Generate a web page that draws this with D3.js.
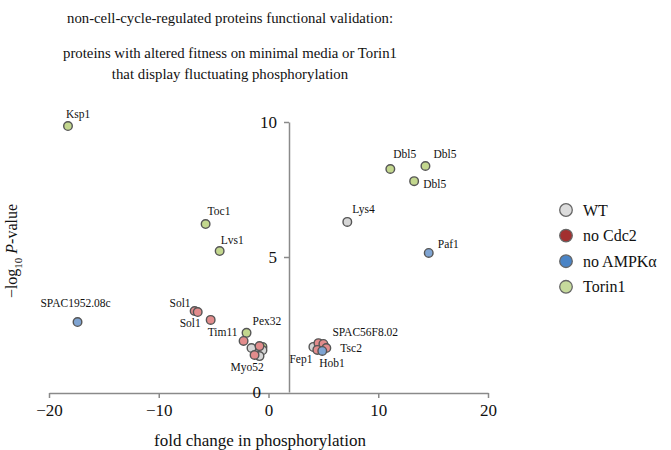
<!DOCTYPE html>
<html><head><meta charset="utf-8">
<script src="https://cdn.jsdelivr.net/npm/d3@7"></script>
<style>
body{margin:0;background:#fff;}
text{font-family:"Liberation Serif","Times New Roman",serif;fill:#111;}
</style></head>
<body><svg id="c" width="671" height="450"></svg>
<script>
// ---- data ----
const groups = ["WT", "no Cdc2", "no AMPKα", "Torin1"];
const titleLines = ["non-cell-cycle-regulated proteins functional validation:", "proteins with altered fitness on minimal media or Torin1", "that display fluctuating phosphorylation"];
const xTicks = [-20, -10, 0, 10, 20];
const yTicks = [0, 5, 10];
// points: fold change, -log10 p, group index
const pointX = [-18.27, -5.73, -4.45, -17.4, -6.73, -6.45, -5.27,
  -2.0, -2.27, -0.55, -0.55, -1.55, -0.82, -0.82, -1.27,
  4.09, 4.55, 5.0, 5.27, 4.45, 4.9,
  11.1, 14.3, 13.27, 7.18, 14.6];
const pointY = [9.85, 6.22, 5.22, 2.59, 3.0, 2.96, 2.67,
  2.19, 1.89, 1.67, 1.55, 1.63, 1.70, 1.33, 1.37,
  1.67, 1.81, 1.78, 1.63, 1.56, 1.52,
  8.26, 8.37, 7.81, 6.30, 5.15];
const pointGroup = [3, 3, 3, 2, 1, 1, 1,
  3, 1, 3, 0, 0, 1, 0, 1,
  0, 1, 1, 1, 1, 2,
  3, 3, 3, 0, 2];
// labels: text and index of the point they annotate
const labelText = ["Ksp1", "Toc1", "Lvs1", "SPAC1952.08c", "Sol1", "Sol1", "Tim11", "Pex32", "Myo52",
  "SPAC56F8.02", "Tsc2", "Fep1", "Hob1", "Dbl5", "Dbl5", "Dbl5", "Lys4", "Paf1"];
const labelPoint = [0, 1, 2, 3, 4, 5, 6, 7, 13, 17, 18, 15, 20, 21, 22, 23, 24, 25];

// ---- layout / style ----
const titleY = [23, 58, 79];
const titleWidth = [326, null, null];
const labelOffsets = [[-2,-8,"start"],[2,-9,"start"],[1,-7,"start"],[-2,-15,"middle"],[-4,-4,"end"],[-18,15,"start"],
  [-3,16,"start"],[6,-8,"start"],[-29,15,"start"],[9,-8,"start"],[14,4,"start"],[-1,16,"end"],[-3,16,"start"],
  [3,-11,"start"],[8,-8,"start"],[9,7,"start"],[5,-9,"start"],[9,-5,"start"]];
const legendFill = ["#dcdcdc", "#a3302f", "#4a84c6", "#c6da9c"];
const pointFill = ["#d6d6d6", "#e28c8c", "#7fa4d2", "#c3d78e"];

const svg = d3.select("#c");
const x = d3.scaleLinear().domain([-20, 20]).range([49, 488]);
const y = d3.scaleLinear().domain([0, 10]).range([392, 122]);
const yAxisX = 289;
const axisColor = "#8a8a8a";

// title
svg.append("g").selectAll("text").data(titleLines).join("text")
  .attr("x", 230).attr("y", (d, i) => titleY[i])
  .attr("text-anchor", "middle").style("font-size", "14.8px")
  .each(function(d, i) { if (titleWidth[i]) d3.select(this).attr("textLength", titleWidth[i]).attr("lengthAdjust", "spacingAndGlyphs"); })
  .text(d => d);

// x axis
const gx = svg.append("g").attr("transform", "translate(0,393)")
  .call(d3.axisBottom(x).tickValues(xTicks).tickSize(5).tickPadding(6).tickSizeOuter(0).tickFormat(d => d < 0 ? "\u2212" + Math.abs(d) : d));
gx.select(".domain").attr("stroke", axisColor).attr("stroke-width", 1.5);
gx.selectAll(".tick line").attr("stroke", axisColor).attr("stroke-width", 1.5);
gx.selectAll(".tick text").style("font-size", "17px").style("font-family", "Liberation Serif").attr("fill", "#111");

// y axis
const gy = svg.append("g").attr("transform", `translate(${yAxisX},0)`)
  .call(d3.axisLeft(y).tickValues(yTicks).tickSize(5).tickPadding(7).tickSizeOuter(0));
gy.select(".domain").attr("stroke", axisColor).attr("stroke-width", 1.5);
gy.selectAll(".tick line").attr("stroke", axisColor).attr("stroke-width", 1.5).filter(d => d === 0).remove();
gy.selectAll(".tick text").style("font-size", "17px").style("font-family", "Liberation Serif").attr("fill", "#111")
  .attr("x", d => d === 0 ? -28 : -12);

// axis titles
svg.append("text").attr("x", 260).attr("y", 446).attr("text-anchor", "middle")
  .style("font-size", "17px").text("fold change in phosphorylation");
const yl = svg.append("text").attr("transform", "translate(17,251) rotate(-90)").attr("text-anchor", "middle").style("font-size", "16px");
yl.append("tspan").text("\u2212log");
yl.append("tspan").attr("dy", 5).style("font-size", "11px").text("10");
yl.append("tspan").attr("dy", -5).text(" ");
yl.append("tspan").style("font-style", "italic").text("P");
yl.append("tspan").text("-value");

// points
const idx = d3.range(pointX.length);
svg.append("g").selectAll("circle").data(idx).join("circle")
  .attr("cx", i => x(pointX[i])).attr("cy", i => y(pointY[i])).attr("r", 4.3)
  .attr("fill", i => pointFill[pointGroup[i]]).attr("stroke", "#555").attr("stroke-width", 1.4);

// labels
svg.append("g").selectAll("text").data(d3.range(labelText.length)).join("text")
  .attr("x", i => x(pointX[labelPoint[i]]) + labelOffsets[i][0])
  .attr("y", i => y(pointY[labelPoint[i]]) + labelOffsets[i][1])
  .attr("text-anchor", i => labelOffsets[i][2])
  .style("font-size", "11.5px").text(i => labelText[i]);

// legend
const lg = svg.append("g").selectAll("g").data(groups).join("g")
  .attr("transform", (d, i) => `translate(566,${210 + i * 25.6})`);
lg.append("circle").attr("r", 6.3).attr("fill", (d, i) => legendFill[i]).attr("stroke", "#666").attr("stroke-width", 1.3);
lg.append("text").attr("x", 17).attr("y", 5.5).style("font-size", "16px").text(d => d);
</script></body></html>
